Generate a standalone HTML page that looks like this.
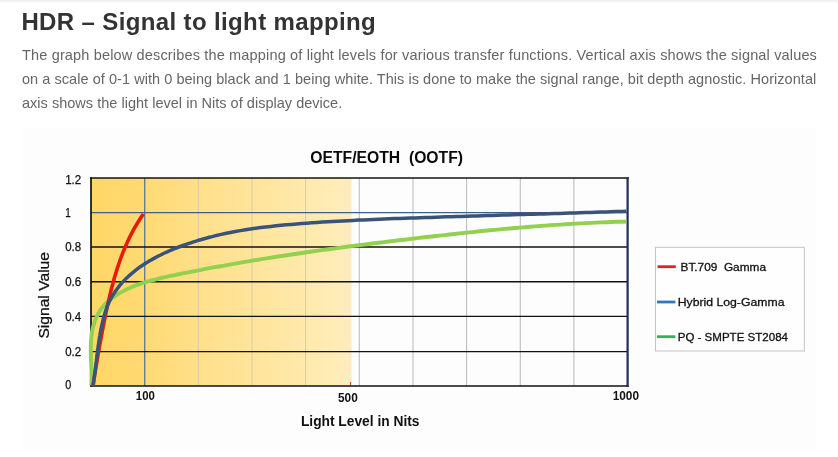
<!DOCTYPE html>
<html lang="en">
<head>
<meta charset="utf-8">
<title>HDR – Signal to light mapping</title>
<style>
html,body{margin:0;padding:0;background:#fff;}
body{width:838px;height:457px;overflow:hidden;position:relative;font-family:"Liberation Sans",sans-serif;}
.topbar{position:absolute;left:0;top:0;width:838px;height:3px;background:linear-gradient(#efefef,#f6f6f6 60%,#fff);}
h1{position:absolute;left:21.4px;top:7px;margin:0;font-size:24px;line-height:30px;font-weight:700;color:#333;white-space:nowrap;letter-spacing:0.37px;}
p{position:absolute;left:22px;top:42.5px;margin:0;font-size:14.5px;line-height:24px;color:#666;white-space:nowrap;}
.l1{letter-spacing:0.16px}.l2{letter-spacing:0.05px}.l3{letter-spacing:0.02px}
p span{display:block;white-space:nowrap;}
.chart{position:absolute;left:0;top:0;font-family:"Liberation Sans",sans-serif;}
</style>
</head>
<body>
<div class="topbar"></div>
<h1>HDR – Signal to light mapping</h1>
<p><span class="l1">The graph below describes the mapping of light levels for various transfer functions. Vertical axis shows the signal values</span><span class="l2">on a scale of 0-1 with 0 being black and 1 being white. This is done to make the signal range, bit depth agnostic. Horizontal</span><span class="l3">axis shows the light level in Nits of display device.</span></p>
<svg class="chart" width="838" height="457" viewBox="0 0 838 457">
<defs>
<linearGradient id="g" x1="0" x2="1" y1="0" y2="0">
<stop offset="0" stop-color="#ffd766"/>
<stop offset="0.2" stop-color="#ffda72"/>
<stop offset="0.42" stop-color="#ffe08a"/>
<stop offset="0.8" stop-color="#ffe9aa"/>
<stop offset="0.94" stop-color="#ffecb6"/>
<stop offset="1" stop-color="#fdecc2"/>
</linearGradient>
</defs>
<rect x="22" y="127.5" width="794.5" height="322.5" fill="#fdfdfd"/>
<rect x="91" y="178" width="260.5" height="208" fill="url(#g)"/>
<line x1="144.7" y1="178" x2="144.7" y2="386" stroke="#5f7f9c" stroke-width="1.4"/>
<line x1="198.3" y1="178" x2="198.3" y2="386" stroke="#d3ccac" stroke-width="1"/>
<line x1="252.0" y1="178" x2="252.0" y2="386" stroke="#d3ccac" stroke-width="1"/>
<line x1="305.6" y1="178" x2="305.6" y2="386" stroke="#d3ccac" stroke-width="1"/>
<line x1="359.3" y1="178" x2="359.3" y2="386" stroke="#bfbfbf" stroke-width="1.1"/>
<line x1="413.0" y1="178" x2="413.0" y2="386" stroke="#bfbfbf" stroke-width="1.1"/>
<line x1="466.6" y1="178" x2="466.6" y2="386" stroke="#bfbfbf" stroke-width="1.1"/>
<line x1="520.3" y1="178" x2="520.3" y2="386" stroke="#bfbfbf" stroke-width="1.1"/>
<line x1="573.9" y1="178" x2="573.9" y2="386" stroke="#bfbfbf" stroke-width="1.1"/>
<line x1="91" y1="351.6" x2="627.6" y2="351.6" stroke="#111" stroke-width="1.35"/>
<line x1="91" y1="316.4" x2="627.6" y2="316.4" stroke="#111" stroke-width="1.35"/>
<line x1="91" y1="281.7" x2="627.6" y2="281.7" stroke="#111" stroke-width="1.35"/>
<line x1="91" y1="247.0" x2="627.6" y2="247.0" stroke="#111" stroke-width="1.35"/>
<line x1="91" y1="212.6" x2="627.6" y2="212.6" stroke="#3f5f85" stroke-width="1.3"/>
<line x1="350.6" y1="382" x2="350.6" y2="385.4" stroke="#e0301e" stroke-width="1"/>
<line x1="90.2" y1="178" x2="628.6" y2="178" stroke="#141210" stroke-width="1.6"/>
<line x1="91" y1="177.3" x2="91" y2="386.8" stroke="#111" stroke-width="1.7"/>
<line x1="90.2" y1="386" x2="628.6" y2="386" stroke="#111" stroke-width="1.5"/>
<line x1="627.6" y1="177" x2="627.6" y2="387" stroke="#1f2c56" stroke-width="2.2"/>
<path d="M91.3 385.4 L91.5 382.8 L91.5 380.2 L91.6 377.6 L91.5 374.9 L91.5 372.2 L91.4 369.5 L91.3 366.7 L91.2 363.9 L91.0 361.1 L90.9 358.3 L90.9 355.5 L90.8 352.6 L90.8 349.8 L90.8 347.0 L90.9 344.2 L91.0 341.4 L91.2 338.6 L91.5 335.9 L91.9 333.1 L92.3 330.4 L92.9 327.8 L93.6 325.1 L94.4 322.6 L95.3 320.1 L96.3 317.6 L97.4 315.2 L98.7 312.9 L100.1 310.6 L101.6 308.5 L103.2 306.4 L105.0 304.4 L106.8 302.5 L108.8 300.7 L110.9 299.0 L113.1 297.4 L115.3 295.8 L117.6 294.3 L120.0 292.9 L122.4 291.6 L124.9 290.3 L127.4 289.1 L129.9 287.9 L132.5 286.8 L135.1 285.8 L137.6 284.8 L140.2 283.9 L142.8 283.0 L145.4 282.2 L148.1 281.4 L150.7 280.7 L153.3 280.0 L156.0 279.3 L158.6 278.6 L161.3 278.0 L163.9 277.4 L166.6 276.8 L169.3 276.2 L171.9 275.6 L174.6 275.1 L177.3 274.5 L180.0 274.0 L182.6 273.4 L185.3 272.9 L188.0 272.4 L190.7 271.8 L193.4 271.3 L196.0 270.8 L198.7 270.3 L201.4 269.8 L204.1 269.2 L206.8 268.7 L209.4 268.2 L212.1 267.7 L214.8 267.2 L217.5 266.7 L220.2 266.3 L222.9 265.8 L225.6 265.3 L228.3 264.8 L233.2 263.9 L238.2 263.1 L243.2 262.2 L248.2 261.4 L253.2 260.5 L258.2 259.7 L263.3 258.9 L268.3 258.1 L273.3 257.3 L278.3 256.5 L283.3 255.8 L288.3 255.0 L293.3 254.2 L298.3 253.5 L303.4 252.8 L308.4 252.0 L313.4 251.3 L318.4 250.6 L323.5 249.9 L328.5 249.2 L333.5 248.6 L338.5 247.9 L343.6 247.2 L348.6 246.5 L353.6 245.9 L358.7 245.2 L363.7 244.6 L368.7 244.0 L373.8 243.3 L378.8 242.7 L383.8 242.1 L388.9 241.5 L393.9 240.9 L399.0 240.3 L404.0 239.7 L409.0 239.1 L414.1 238.5 L419.1 237.9 L424.2 237.3 L429.2 236.8 L434.2 236.2 L439.3 235.6 L444.3 235.1 L449.4 234.5 L454.4 234.0 L459.5 233.4 L464.5 232.9 L469.5 232.4 L474.6 231.9 L479.6 231.3 L484.7 230.8 L489.7 230.3 L494.8 229.9 L499.8 229.4 L504.9 228.9 L509.9 228.5 L515.0 228.0 L520.0 227.6 L525.1 227.2 L530.2 226.8 L535.2 226.4 L540.3 226.0 L545.3 225.6 L550.4 225.2 L555.4 224.9 L560.5 224.6 L565.6 224.2 L570.6 223.9 L575.7 223.6 L580.8 223.4 L585.8 223.1 L590.9 222.9 L596.0 222.6 L601.0 222.4 L606.1 222.2 L611.2 222.0 L616.3 221.8 L621.3 221.7 L626.4 221.6" fill="none" stroke="#92d050" stroke-width="3.9" stroke-linecap="butt" stroke-linejoin="round"/>
<path d="M93.1 385.5 L93.4 383.3 L93.7 381.2 L94.0 379.0 L94.4 376.9 L94.7 374.7 L95.1 372.6 L95.4 370.5 L95.8 368.3 L96.1 366.2 L96.5 364.0 L96.8 361.9 L97.2 359.7 L97.6 357.6 L97.9 355.5 L98.3 353.3 L98.7 351.2 L99.0 349.0 L99.4 346.9 L99.8 344.7 L100.2 342.6 L100.6 340.5 L101.0 338.3 L101.4 336.2 L101.8 334.0 L102.2 331.9 L102.6 329.8 L103.0 327.6 L103.4 325.5 L103.9 323.3 L104.6 319.4 L105.4 315.4 L106.3 311.4 L107.1 307.5 L108.0 303.5 L108.9 299.6 L109.8 295.6 L110.7 291.7 L111.7 287.8 L112.8 283.9 L113.8 280.0 L114.9 276.1 L116.1 272.2 L117.3 268.4 L118.6 264.5 L119.9 260.7 L121.2 257.0 L122.7 253.2 L124.2 249.5 L125.8 245.8 L127.4 242.1 L129.1 238.4 L130.9 234.8 L132.8 231.2 L134.7 227.7 L136.8 224.2 L138.9 220.7 L141.1 217.3 L143.4 213.9" fill="none" stroke="#e61b0c" stroke-width="3.6" stroke-linecap="butt" stroke-linejoin="round"/>
<path d="M93.1 385.5 L93.5 382.8 L93.9 380.1 L94.3 377.3 L94.7 374.6 L95.0 371.9 L95.4 369.1 L95.7 366.3 L96.0 363.6 L96.4 360.8 L96.7 358.1 L97.0 355.3 L97.4 352.5 L97.7 349.8 L98.1 347.0 L98.5 344.2 L98.9 341.5 L99.3 338.7 L99.8 336.0 L100.2 333.2 L100.7 330.5 L101.3 327.7 L101.9 325.0 L102.5 322.3 L103.1 319.6 L103.8 316.9 L104.6 314.2 L105.4 311.5 L106.3 308.9 L107.3 306.3 L108.3 303.7 L109.5 301.2 L110.8 298.8 L112.1 296.3 L113.6 294.0 L115.1 291.7 L116.7 289.5 L118.3 287.3 L120.0 285.2 L121.8 283.1 L123.6 281.1 L125.5 279.1 L127.5 277.2 L129.5 275.4 L131.6 273.6 L133.7 271.8 L135.8 270.1 L138.0 268.4 L140.3 266.8 L142.6 265.3 L144.9 263.7 L147.3 262.3 L149.7 260.8 L152.1 259.4 L154.5 258.1 L157.0 256.7 L159.5 255.5 L162.1 254.2 L164.6 253.0 L167.2 251.9 L169.8 250.7 L172.4 249.6 L175.0 248.5 L177.6 247.5 L180.2 246.5 L182.9 245.5 L185.5 244.6 L188.2 243.7 L190.8 242.8 L193.5 241.9 L196.1 241.1 L198.8 240.2 L201.4 239.5 L204.1 238.7 L206.8 238.0 L209.5 237.2 L212.2 236.6 L214.8 235.9 L217.5 235.2 L220.2 234.6 L225.2 233.5 L230.3 232.5 L235.3 231.5 L240.4 230.6 L245.4 229.8 L250.5 229.0 L255.6 228.3 L260.7 227.6 L265.8 227.0 L270.9 226.4 L276.0 225.8 L281.1 225.3 L286.2 224.8 L291.4 224.4 L296.5 224.0 L301.6 223.6 L306.8 223.2 L311.9 222.8 L317.1 222.5 L322.2 222.1 L327.4 221.8 L332.5 221.5 L337.7 221.2 L342.8 220.9 L348.0 220.7 L353.1 220.4 L358.3 220.1 L363.5 219.9 L368.6 219.7 L373.8 219.5 L378.9 219.2 L384.1 219.0 L389.3 218.8 L394.4 218.6 L399.6 218.4 L404.8 218.3 L409.9 218.1 L415.1 217.9 L420.2 217.7 L425.4 217.5 L430.6 217.4 L435.7 217.2 L440.9 217.0 L446.0 216.8 L451.2 216.7 L456.3 216.5 L461.5 216.4 L466.6 216.2 L471.8 216.0 L476.9 215.9 L482.1 215.7 L487.2 215.6 L492.4 215.4 L497.5 215.2 L502.7 215.1 L507.8 214.9 L513.0 214.8 L518.1 214.6 L523.3 214.5 L528.4 214.3 L533.6 214.2 L538.7 214.0 L543.9 213.9 L549.1 213.7 L554.2 213.5 L559.4 213.4 L564.5 213.2 L569.7 213.1 L574.8 212.9 L580.0 212.8 L585.1 212.6 L590.3 212.4 L595.4 212.3 L600.6 212.1 L605.8 211.9 L610.9 211.8 L616.1 211.6 L621.3 211.4 L626.4 211.2" fill="none" stroke="#3a5479" stroke-width="3.5" stroke-linecap="butt" stroke-linejoin="round"/>
<text x="310.3" y="162.6" font-size="16" font-weight="700" fill="#0a0a0a" textLength="152.7" lengthAdjust="spacingAndGlyphs" xml:space="preserve">OETF/EOTH  (OOTF)</text>
<text x="65.2" y="183.9" font-size="12.2" fill="#111" stroke="#111" stroke-width="0.25" textLength="16" lengthAdjust="spacingAndGlyphs">1.2</text>
<text x="65.2" y="216.9" font-size="12.2" fill="#111" stroke="#111" stroke-width="0.25" textLength="5.5" lengthAdjust="spacingAndGlyphs">1</text>
<text x="65.2" y="251.3" font-size="12.2" fill="#111" stroke="#111" stroke-width="0.25" textLength="16" lengthAdjust="spacingAndGlyphs">0.8</text>
<text x="65.2" y="286.0" font-size="12.2" fill="#111" stroke="#111" stroke-width="0.25" textLength="16" lengthAdjust="spacingAndGlyphs">0.6</text>
<text x="65.2" y="320.7" font-size="12.2" fill="#111" stroke="#111" stroke-width="0.25" textLength="16" lengthAdjust="spacingAndGlyphs">0.4</text>
<text x="65.2" y="355.9" font-size="12.2" fill="#111" stroke="#111" stroke-width="0.25" textLength="16" lengthAdjust="spacingAndGlyphs">0.2</text>
<text x="65.2" y="389.0" font-size="12.2" fill="#111" stroke="#111" stroke-width="0.25" textLength="6" lengthAdjust="spacingAndGlyphs">0</text>
<text transform="translate(49.3 338.6) rotate(-90)" font-size="14.2" fill="#111" stroke="#111" stroke-width="0.25" textLength="86.6" lengthAdjust="spacingAndGlyphs">Signal Value</text>
<text x="135.8" y="399.8" font-size="12" font-weight="700" fill="#111" textLength="19" lengthAdjust="spacingAndGlyphs">100</text>
<text x="338" y="401.6" font-size="12" font-weight="700" fill="#111" textLength="19.8" lengthAdjust="spacingAndGlyphs">500</text>
<text x="612.7" y="400" font-size="12" font-weight="700" fill="#111" textLength="26.3" lengthAdjust="spacingAndGlyphs">1000</text>
<text x="300.9" y="425.9" font-size="14.3" font-weight="700" fill="#111" textLength="118.6" lengthAdjust="spacingAndGlyphs">Light Level in Nits</text>
<rect x="655.5" y="247.3" width="148.8" height="103.7" fill="#fefefe" stroke="#c4c4c4" stroke-width="1"/>
<line x1="657.6" y1="266.7" x2="675.8" y2="266.7" stroke="#e0202a" stroke-width="2.8" stroke-linecap="butt"/>
<line x1="657" y1="302" x2="675.4" y2="302" stroke="#2f78bd" stroke-width="2.8" stroke-linecap="butt"/>
<line x1="657" y1="336.7" x2="675.4" y2="336.7" stroke="#2fb45a" stroke-width="2.8" stroke-linecap="butt"/>
<text x="680.5" y="270.7" font-size="11.6" fill="#111" stroke="#111" stroke-width="0.3" textLength="85.5" lengthAdjust="spacingAndGlyphs" xml:space="preserve">BT.709  Gamma</text>
<text x="677.7" y="305.6" font-size="11.6" fill="#111" stroke="#111" stroke-width="0.3" textLength="106.8" lengthAdjust="spacingAndGlyphs">Hybrid Log-Gamma</text>
<text x="677.7" y="340.8" font-size="11.6" fill="#111" stroke="#111" stroke-width="0.3" textLength="110.3" lengthAdjust="spacingAndGlyphs">PQ - SMPTE ST2084</text>
</svg>
</body>
</html>
